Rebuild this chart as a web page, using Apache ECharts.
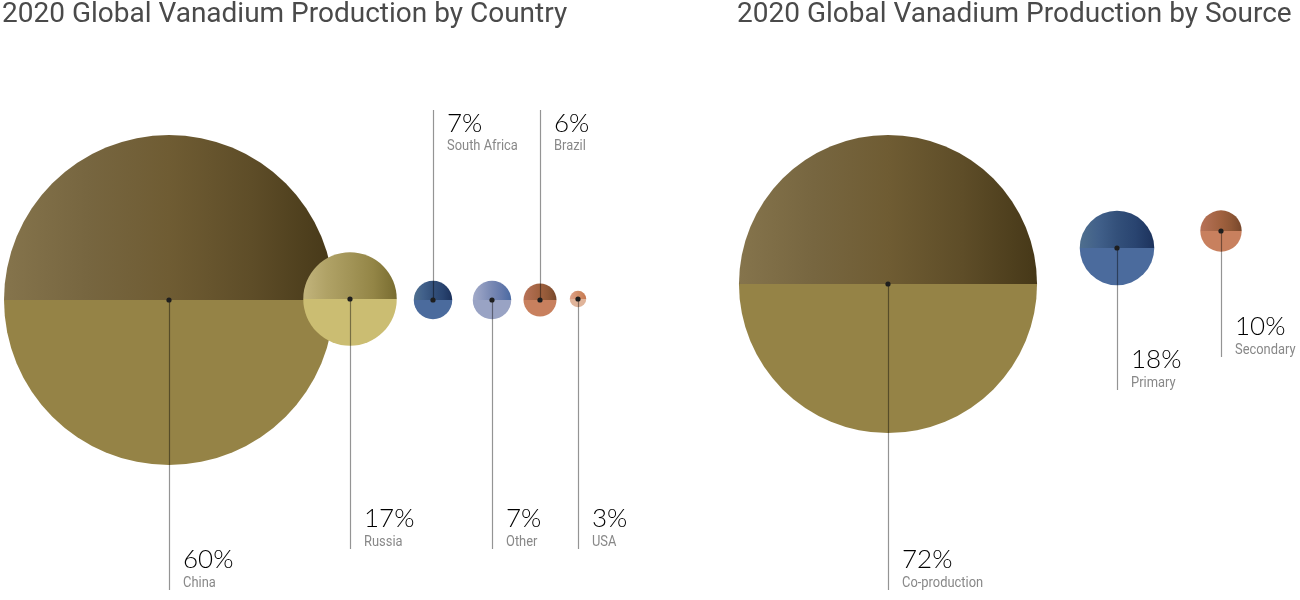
<!DOCTYPE html>
<html><head><meta charset="utf-8">
<script src="https://cdn.jsdelivr.net/npm/echarts@6/dist/echarts.min.js"></script>
<style>html,body{margin:0;padding:0;background:#fff}#c{width:1300px;height:600px}</style>
</head><body><div id="c"></div>
<script>
// ---- data ----
const countryNames = ['China', 'Russia', 'South Africa', 'Other', 'Brazil', 'USA'];
const countryValues = [60, 17, 7, 7, 6, 3];
const sourceNames = ['Co-production', 'Primary', 'Secondary'];
const sourceValues = [72, 18, 10];
const titles = ['2020 Global Vanadium Production by Country', '2020 Global Vanadium Production by Source'];

// ---- layout (positions, not data) ----
const countryLayout = [
  {cx: 169, cy: 300, dir: 'down', y: 590},
  {cx: 350, cy: 299, dir: 'down', y: 549},
  {cx: 433, cy: 300, dir: 'up', y: 110},
  {cx: 492, cy: 300, dir: 'down', y: 549},
  {cx: 540, cy: 300, dir: 'up', y: 110},
  {cx: 578, cy: 299, dir: 'down', y: 549}
];
const sourceLayout = [
  {cx: 888, cy: 284, dir: 'down', y: 590},
  {cx: 1117, cy: 248, dir: 'down', y: 390},
  {cx: 1221, cy: 231, dir: 'down', y: 357}
];
const countryScale = 2.75; // px radius per %
const sourceScale = 2.07;

// ---- styles ----
const palettes = {
  gold:   {top: ['#85744c', '#776640', '#6f5c33', '#5e4d28', '#463818'], bottom: '#958346'},
  sand:   {top: ['#c2b47c', '#b0a266', '#a29457', '#938546', '#786c30'], bottom: '#cbbd72'},
  navy:   {top: ['#4f6f8e', '#41608a', '#33507a', '#294470', '#1c325c'], bottom: '#4b6b9d'},
  lilac:  {top: ['#a3abc9', '#8e9abf', '#7888b3', '#6479ab', '#4a6aa2'], bottom: '#99a3c4'},
  copper: {top: ['#b87257', '#ab6a4c', '#a0613f', '#8f5736', '#77472b'], bottom: '#c8805e'},
  peach:  {top: ['#dea48c', '#d8987a', '#d18e68', '#cc845c', '#c67650'], bottom: '#e0b49a'}
};
const countryPalette = ['gold', 'sand', 'navy', 'lilac', 'copper', 'peach'];
const sourcePalette = ['gold', 'navy', 'copper'];

function grad(c) {
  return {type: 'linear', x: 0, y: 0, x2: 1, y2: 0,
    colorStops: c.map((col, k) => ({offset: k / (c.length - 1), color: col}))};
}

const series = [];
const graphics = [];
function addGroup(names, values, layout, scale, pal) {
  names.forEach((n, i) => {
    const L = layout[i], p = palettes[pal[i]];
    const r = values[i] * scale;
    series.push({
      type: 'pie', silent: true, animation: false,
      center: [L.cx, L.cy], radius: [0, r],
      startAngle: 180, clockwise: true,
      label: {show: false}, labelLine: {show: false},
      itemStyle: {borderWidth: 0},
      data: [
        {value: 1, name: n + ' top', itemStyle: {color: grad(p.top)}},
        {value: 1, name: n + ' bottom', itemStyle: {color: p.bottom}}
      ],
      z: 2
    });
    const y1 = L.dir === 'down' ? L.cy : L.y;
    const y2 = L.dir === 'down' ? L.y : L.cy;
    graphics.push({type: 'line', shape: {x1: L.cx + 0.5, y1: y1, x2: L.cx + 0.5, y2: y2},
      style: {stroke: 'rgba(0,0,0,0.42)', lineWidth: 1.2}, z: 100});
    graphics.push({type: 'circle', shape: {cx: L.cx, cy: L.cy, r: 2.6}, style: {fill: '#1e1e1e'}, z: 101});
    const pctTop = L.dir === 'down' ? L.y - 42 : L.y + 2;
    const nameTop = L.dir === 'down' ? L.y - 12 : L.y + 31;
    graphics.push({type: 'text', x: L.cx + 14, y: pctTop - 1, z: 101,
      style: {text: values[i] + '%', font: '300 26px Lato', fill: '#000', verticalAlign: 'top'}});
    graphics.push({type: 'text', x: L.cx + 14, y: nameTop - 2, z: 101, scaleX: 0.86,
      style: {text: n, font: '400 15px Roboto', fill: '#888', verticalAlign: 'top'}});
  });
}
addGroup(countryNames, countryValues, countryLayout, countryScale, countryPalette);
addGroup(sourceNames, sourceValues, sourceLayout, sourceScale, sourcePalette);

const chart = echarts.init(document.getElementById('c'), null, {renderer: 'canvas'});
chart.setOption({
  animation: false,
  title: [
    {text: titles[0], left: 2, top: 1, padding: 0, textStyle: {fontFamily: 'Roboto', fontWeight: 400, fontSize: 28, color: '#4a4a4a'}},
    {text: titles[1], left: 737, top: 1, padding: 0, textStyle: {fontFamily: 'Roboto', fontWeight: 400, fontSize: 28, color: '#4a4a4a'}}
  ],
  series: series,
  graphic: graphics
});
</script></body></html>
